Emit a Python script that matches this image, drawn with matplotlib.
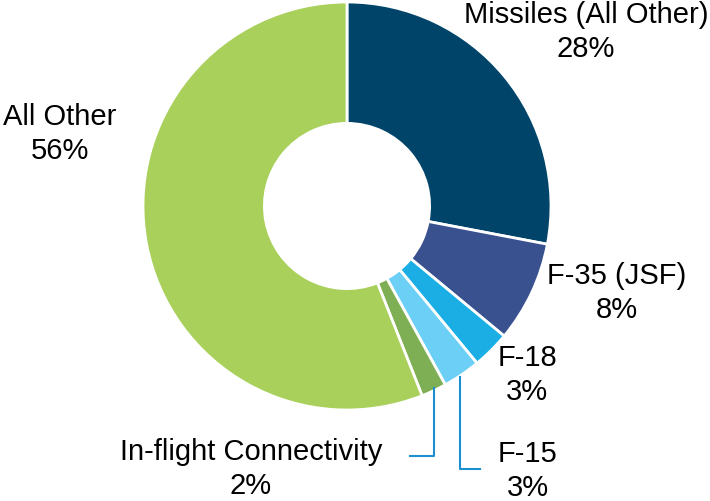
import matplotlib
matplotlib.use("Agg")
import matplotlib.pyplot as plt

# Segment data (clockwise from 12 o'clock)
labels = ["Missiles (All Other)", "F-35 (JSF)", "F-18", "F-15",
          "In-flight Connectivity", "All Other"]
shares = [28, 8, 3, 3, 2, 56]
colors = ["#00446A", "#3A5190", "#1AAEE5", "#6CCFF6", "#7FAF55", "#A9D05B"]

# label centres in pixel space (x, y from top)
label_pos = [(586, 32), (617, 293), (527, 375), (528, 471), (251, 469), (60, 134)]

W, H = 710, 501
plt.rcParams['font.family'] = ['Liberation Sans', 'DejaVu Sans']

fig = plt.figure(figsize=(W / 100, H / 100), dpi=100)
ax = fig.add_axes([0, 0, 1, 1])

# donut
cx, cy, r = 347, H - 206, 204
ax.pie(shares, colors=colors, startangle=90, counterclock=False,
       center=(cx, cy), radius=r,
       wedgeprops=dict(width=r * 0.595, edgecolor="white", linewidth=2))

# labels
for lab, val, (lx, ly) in zip(labels, shares, label_pos):
    ax.text(lx, H - ly, f"{lab}\n{val}%", ha="center", va="center",
            fontsize=21, linespacing=1.28, color="black")

# leader lines for the two small slices
lc = "#1B8FD0"
ax.plot([434, 434, 410], [H - 388, H - 456, H - 456], color=lc, lw=1.5)
ax.plot([460, 460, 480], [H - 377, H - 469, H - 469], color=lc, lw=1.5)

ax.set_xlim(0, W)
ax.set_ylim(0, H)
ax.set_aspect("equal")
ax.axis("off")

fig.savefig("out.png", dpi=100)
